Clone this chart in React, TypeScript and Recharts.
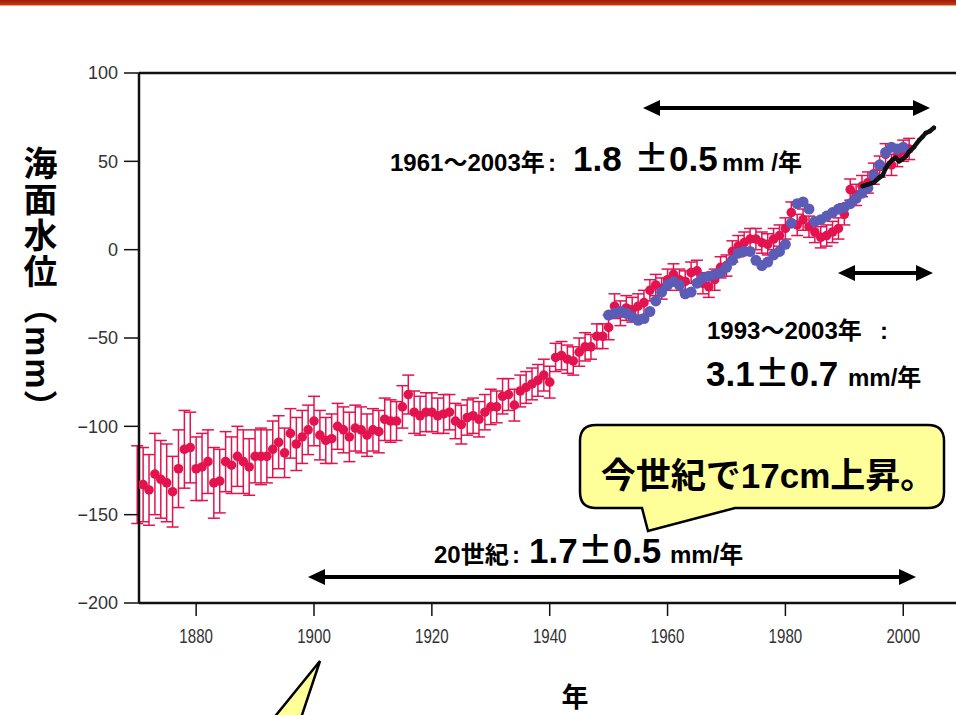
import React from "react";
import {
  ComposedChart,
  XAxis,
  YAxis,
  Scatter,
  ErrorBar,
  ReferenceLine,
} from "recharts";

// reconstructed annual mean sea level (red, with error bars), from 1870
const RED_START = 1870;
const redSea = [
  -133, -133, -136, -127, -130, -132, -137, -124, -113, -112, // 1870s
  -124, -123, -120, -132, -131, -120, -122, -117, -120, -123, // 1880s
  -117, -117, -117, -113, -109, -115, -104, -110, -106, -102, // 1890s
  -97, -105, -108, -107, -100, -102, -106, -101, -102, -105, // 1900s
  -102, -103, -96, -97, -97, -89, -82, -92, -94, -92, // 1910s
  -92, -94, -93, -92, -97, -99, -95, -94, -96, -92, // 1920s
  -89, -89, -83, -82, -88, -80, -78, -76, -74, -71, // 1930s
  -75, -61, -60, -62, -63, -58, -55, -55, -49, -49, // 1940s
  -44, -32, -36, -33, -34, -32, -30, -23, -20, -22, // 1950s
  -17, -14, -17, -18, -13, -12, -19, -21, -17, -10, // 1960s
  -9, -1, 2, 4, 6, 6, 4, 3, 6, 8, // 1970s
  12, 21, 14, 17, 13, 10, 7, 8, 10, 12, // 1980s
  20, 34, 31, 36, 38, 43, 47, 54, 48, 53, // 1990s
  56, 57,
];
const redErr = [
  22, 21, 20, 23, 22, 22, 20, 22, 22, 20,
  18, 19, 18, 20, 18, 17, 16, 17, 18, 16,
  15, 16, 15, 16, 15, 14, 14, 15, 15, 14,
  14, 14, 13, 14, 13, 13, 14, 13, 13, 12,
  12, 12, 12, 12, 11, 12, 11, 12, 11, 11,
  11, 10, 11, 10, 10, 11, 10, 10, 10, 10,
  10, 9, 10, 9, 9, 9, 9, 9, 9, 9,
  9, 8, 8, 8, 8, 8, 8, 7, 7, 7,
  7, 7, 7, 7, 7, 7, 7, 6, 6, 6,
  6, 6, 6, 6, 6, 6, 6, 6, 6, 6,
  6, 6, 6, 6, 6, 6, 6, 6, 6, 6,
  6, 6, 6, 6, 6, 6, 6, 6, 6, 6,
  6, 6, 6, 6, 6, 6, 6, 6, 6, 6,
  6, 6,
];

// tide gauge series (blue), from 1950
const BLUE_START = 1950;
const blueSea = [
  -37, -36, -35, -36, -38, -40, -39, -35, -29, -24,
  -20, -18, -20, -25, -24, -19, -16, -15, -14, -13,
  -10, -6, -2, -1, -1, -6, -9, -7, -3, -1,
  3, 15, 26, 27, 23, 16, 17, 19, 21, 23,
  24, 26, 29, 32, 35, 42, 48, 55, 58, 57,
  58,
];

// satellite altimetry (black)
const satYears = [
  1993.1, 1994, 1995, 1996, 1996.5, 1997, 1997.6, 1998.2, 1998.7, 1999.3,
  1999.8, 2000.5, 2001, 2001.8, 2002.7, 2003.3, 2003.8, 2004.5, 2005.2,
];
const satSea = [36, 37, 38, 41, 42, 46, 49, 51, 52, 50, 51, 53, 55.5, 58, 62, 64, 66, 67, 69];

const xTicks = [1880, 1900, 1920, 1940, 1960, 1980, 2000];
const yTicks = [-200, -150, -100, -50, 0, 50, 100];

const redData = redSea.map((v, i) => ({ year: RED_START + i, sea: v, err: redErr[i] }));
const blueData = blueSea.map((v, i) => ({ year: BLUE_START + i, sea: v }));
const satData = satSea.map((v, i) => ({ year: satYears[i], sea: v }));

const RED = "#E3134F";
const BLUE = "#5A5CB6";
const FONT = "'Liberation Sans', Arial, 'Noto Sans CJK JP', sans-serif";
const CJK = "'Noto Sans CJK JP', sans-serif";

function renderXTick(props: any) {
  const { x, y, payload } = props;
  return (
    <g key={payload.value} transform={`translate(${x},${y + 25})`}>
      <text transform="scale(0.72,1)" textAnchor="middle" fontSize={21} fill="#333" fontFamily={FONT}>
        {payload.value}
      </text>
    </g>
  );
}

function DoubleArrow({ x1, x2, y }: { x1: number; x2: number; y: number }) {
  const h = 17;
  const w = 8;
  return (
    <g fill="#000">
      <line x1={x1 + h - 2} x2={x2 - h + 2} y1={y} y2={y} stroke="#000" strokeWidth={4} />
      <polygon points={`${x1},${y} ${x1 + h},${y - w} ${x1 + h},${y + w}`} />
      <polygon points={`${x2},${y} ${x2 - h},${y - w} ${x2 - h},${y + w}`} />
    </g>
  );
}

export default function App() {
  return (
    <div
      style={{
        position: "absolute",
        left: 0,
        top: 0,
        width: 956,
        height: 715,
        overflow: "hidden",
        background: "#fff",
        fontFamily: FONT,
      }}
    >
      {/* slide header bar */}
      <div style={{ position: "absolute", left: 0, top: 0, width: 956, height: 5, background: "linear-gradient(#9E1B0A, #C23A10)" }} />
      <div style={{ position: "absolute", left: 0, top: 5, width: 956, height: 1, background: "#E9A27A" }} />

      <div style={{ position: "absolute", left: 0, top: 0 }}>
        <ComposedChart width={975} height={715} margin={{ top: 73, right: 14, left: 0, bottom: 0 }}>
          <XAxis
            type="number"
            dataKey="year"
            domain={[1870.3, 2009.8]}
            allowDataOverflow
            ticks={xTicks}
            tickSize={13}
            height={112}
            axisLine={{ stroke: "#111", strokeWidth: 2.5 }}
            tickLine={{ stroke: "#111", strokeWidth: 1.5 }}
            tick={renderXTick}
          />
          <YAxis
            type="number"
            dataKey="sea"
            domain={[-200, 100]}
            allowDataOverflow
            ticks={yTicks}
            width={139}
            tickSize={15}
            tickMargin={6}
            axisLine={{ stroke: "#111", strokeWidth: 2.5 }}
            tickLine={{ stroke: "#111", strokeWidth: 1.5 }}
            tick={{ fontSize: 18, fill: "#333", fontFamily: FONT }}
            tickFormatter={(v: number) => (v < 0 ? "\u2212" + Math.abs(v) : String(v))}
          />
          <ReferenceLine y={100} stroke="#111" strokeWidth={2.5} />
          <Scatter
            data={redData}
            dataKey="sea"
            isAnimationActive={false}
            shape={(p: any) => <circle cx={p.cx} cy={p.cy} r={4.8} fill={RED} />}
          >
            <ErrorBar dataKey="err" direction="y" width={6} stroke={RED} strokeWidth={1.5} />
          </Scatter>
          <Scatter
            data={blueData}
            dataKey="sea"
            isAnimationActive={false}
            shape={(p: any) => <circle cx={p.cx} cy={p.cy} r={5.5} fill={BLUE} />}
          />
          {/* satellite series drawn as a connected scatter so it sits on top */}
          <Scatter
            data={satData}
            dataKey="sea"
            isAnimationActive={false}
            line={{ stroke: "#111", strokeWidth: 4.5, strokeLinecap: "round", strokeLinejoin: "round" }}
            lineType="joint"
            shape={(p: any) => <circle cx={p.cx} cy={p.cy} r={2.2} fill="#111" />}
          />
        </ComposedChart>
      </div>

      {/* annotations */}
      <svg
        width={956}
        height={715}
        style={{ position: "absolute", left: 0, top: 0, pointerEvents: "none" }}
        fontFamily={FONT}
        fontWeight="bold"
      >
        <DoubleArrow x1={643} x2={930} y={108} />
        <DoubleArrow x1={838} x2={933} y={273} />
        <DoubleArrow x1={308} x2={916} y={577} />

        <text y={171} fill="#000">
          <tspan x={390} fontSize={24}>1961～2003年</tspan>
          <tspan x={548} fontSize={24}>:</tspan>
          <tspan x={573} fontSize={35}>1.8</tspan>
          <tspan x={634} fontSize={35} fontFamily={CJK}>±</tspan>
          <tspan fontSize={35}>0.5</tspan>
          <tspan x={722} fontSize={24}>mm /年</tspan>
        </text>

        <text y={339} fill="#000">
          <tspan x={707} fontSize={24}>1993～2003年</tspan>
          <tspan x={880} fontSize={24}>:</tspan>
        </text>
        <text y={386} fill="#000">
          <tspan x={706} fontSize={35}>3.1</tspan>
          <tspan fontSize={35} fontFamily={CJK}>±</tspan>
          <tspan fontSize={35}>0.7</tspan>
          <tspan x={848} fontSize={24}>mm/年</tspan>
        </text>

        <text y={563} fill="#000">
          <tspan x={434} fontSize={24}>20世紀</tspan>
          <tspan x={512} fontSize={24}>:</tspan>
          <tspan x={529} fontSize={35}>1.7</tspan>
          <tspan fontSize={35} fontFamily={CJK}>±</tspan>
          <tspan fontSize={35}>0.5</tspan>
          <tspan x={670} fontSize={24}>mm/年</tspan>
        </text>

        <path
          d="M 596,425 H 928 Q 944,425 944,441 V 492 Q 944,508 928,508 H 735 L 648,531 L 642,508 H 596 Q 580,508 580,492 V 441 Q 580,425 596,425 Z"
          fill="#FFFF99"
          stroke="#000"
          strokeWidth={2.5}
        />
        <text x={768} y={488} fontSize={35} textAnchor="middle" fill="#000">
          今世紀で17cm上昇。
        </text>

        <polygon points="320,661 264,730 297,730" fill="#FFFF99" stroke="#000" strokeWidth={2.5} />

        <text x={575} y={707} fontSize={27} textAnchor="middle" fill="#000">
          年
        </text>
      </svg>

      <div
        style={{
          position: "absolute",
          left: 21,
          top: 146,
          writingMode: "vertical-rl",
          fontSize: 34,
          lineHeight: 1,
          fontWeight: "bold",
          letterSpacing: 2,
          fontFamily: FONT,
          color: "#000",
        }}
      >
        海面水位（mm）
      </div>
    </div>
  );
}
